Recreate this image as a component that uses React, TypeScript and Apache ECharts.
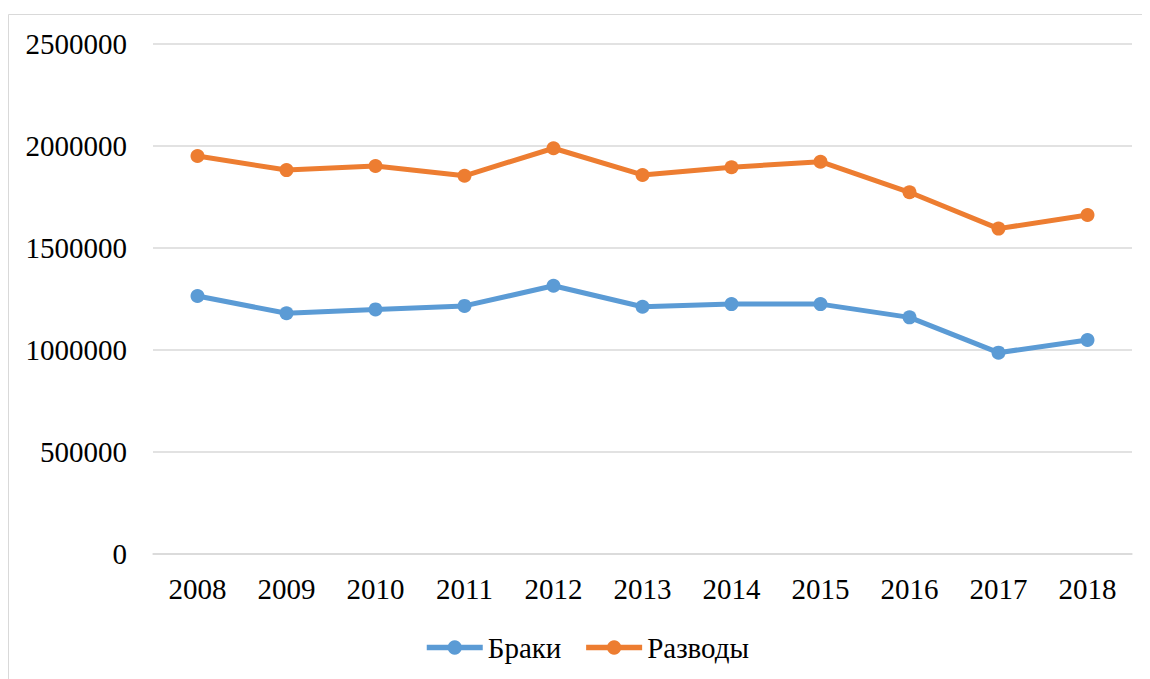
import React, { useEffect, useRef } from "react";
import * as echarts from "echarts";

const years = ["2008", "2009", "2010", "2011", "2012", "2013", "2014", "2015", "2016", "2017", "2018"];
const marriages = [1265000, 1180000, 1199000, 1216000, 1315000, 1212000, 1225000, 1225000, 1160000, 987000, 1049000];
const divorces = [1951000, 1882000, 1902000, 1854000, 1989000, 1858000, 1896000, 1923000, 1773000, 1595000, 1662000];
const seriesNames = ["Браки", "Разводы"];

const FONT = "'Liberation Serif', 'Times New Roman', serif";

export default function App() {
  const ref = useRef<HTMLDivElement>(null);
  useEffect(() => {
    if (!ref.current) return;
    const chart = echarts.init(ref.current, null, { renderer: "svg" });
    chart.setOption({
      animation: false,
      backgroundColor: "#ffffff",
      graphic: [
        {
          type: "rect",
          shape: { x: 0.5, y: 6.5, width: 1300, height: 800 },
          style: { fill: "none", stroke: "#D9D9D9", lineWidth: 1 },
          silent: true,
        },
      ],
      grid: { left: 145, right: 18, top: 36, bottom: 125, containLabel: false },
      legend: {
        data: seriesNames,
        bottom: 12,
        left: 411,
        itemWidth: 56,
        itemHeight: 18,
        itemGap: 22,
        lineStyle: { width: 5.5 },
        textStyle: { fontFamily: FONT, fontSize: 29, color: "#000" },
      },
      xAxis: {
        type: "category",
        data: years,
        boundaryGap: true,
        axisLine: { show: true, lineStyle: { color: "#D9D9D9", width: 1.5 } },
        axisTick: { show: false },
        axisLabel: { fontFamily: FONT, fontSize: 29, color: "#000", margin: 20 },
      },
      yAxis: {
        type: "value",
        min: 0,
        max: 2500000,
        interval: 500000,
        axisLine: { show: false },
        axisTick: { show: false },
        splitLine: { lineStyle: { color: "#D9D9D9", width: 1.5 } },
        axisLabel: {
          fontFamily: FONT,
          fontSize: 29,
          color: "#000",
          margin: 26,
          formatter: (v: number) => String(v),
        },
      },
      series: [
        {
          name: seriesNames[0],
          type: "line",
          data: marriages,
          symbol: "circle",
          symbolSize: 14,
          color: "#5B9BD5",
          lineStyle: { width: 5, color: "#5B9BD5" },
          itemStyle: { color: "#5B9BD5" },
        },
        {
          name: seriesNames[1],
          type: "line",
          data: divorces,
          symbol: "circle",
          symbolSize: 14,
          color: "#ED7D31",
          lineStyle: { width: 5, color: "#ED7D31" },
          itemStyle: { color: "#ED7D31" },
        },
      ],
    });
    return () => chart.dispose();
  }, []);
  return <div ref={ref} style={{ width: 1142, height: 671 }} />;
}
